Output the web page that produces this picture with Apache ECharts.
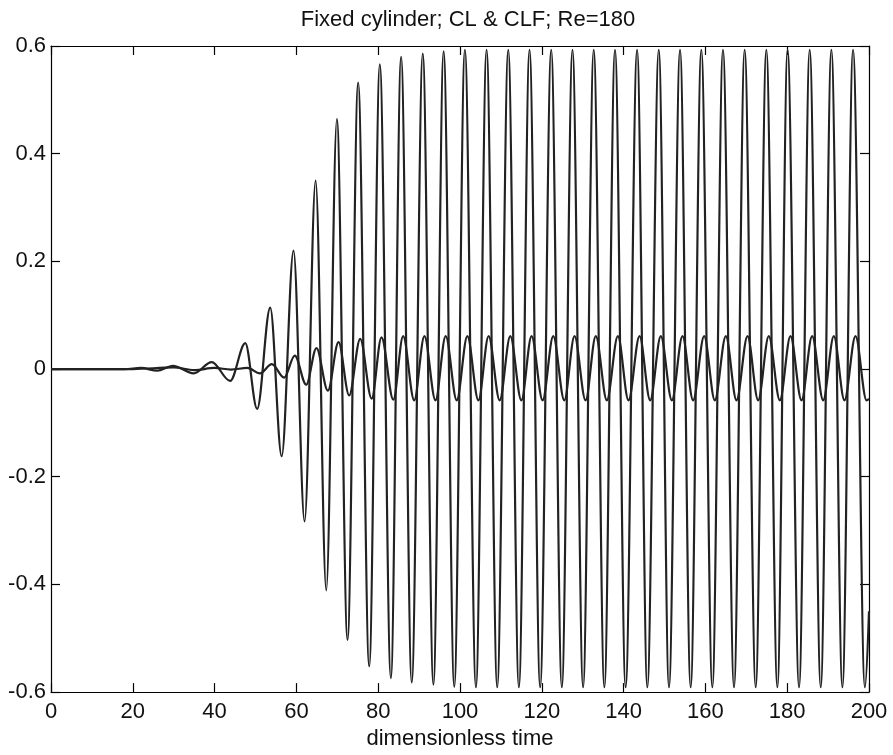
<!DOCTYPE html>
<html>
<head>
<meta charset="utf-8">
<script src="https://cdn.jsdelivr.net/npm/echarts@6/dist/echarts.min.js"></script>
<style>
html,body{margin:0;padding:0;background:#fff;}
#chart{width:893px;height:755px;}
</style>
</head>
<body>
<div id="chart"></div>
<script>
// ---- data (extrema of each signal) ----
const titleText = 'Fixed cylinder; CL & CLF; Re=180';
const xName = 'dimensionless time';
const xTicks = [0, 20, 40, 60, 80, 100, 120, 140, 160, 180, 200];
const yTicks = [-0.6, -0.4, -0.2, 0, 0.2, 0.4, 0.6];

// CL: lift coefficient (large oscillation)
const clT = [0, 18, 22, 26, 29.8, 34.9, 39.3, 43.8, 47.5, 50.4, 53.6, 56.4, 59.3, 62.0, 64.7, 67.3, 69.9, 72.5, 75.1, 77.8, 80.4, 83.1, 85.6, 88.2, 90.9, 93.5, 96.0,
  98.6, 101.2, 103.9, 106.5, 109.1, 111.8, 114.4, 117.0, 119.6, 122.3, 124.9, 127.5, 130.1, 132.7, 135.3, 137.9, 140.5, 143.3, 145.8, 148.6,
  151.1, 153.8, 156.4, 159.0, 161.7, 164.3, 167.0, 169.6, 172.3, 174.9, 177.6, 180.1, 182.9, 185.5, 188.2, 190.8, 193.5, 196.1, 199.0, 200];
const clV = [0, 0, 0.002, -0.003, 0.006, -0.008, 0.013, -0.022, 0.048, -0.074, 0.114, -0.162, 0.22, -0.283, 0.35, -0.411, 0.464, -0.503, 0.532, -0.552, 0.566, -0.574, 0.58, -0.582, 0.586, -0.586, 0.59,
  -0.59, 0.593, -0.591, 0.593, -0.591, 0.593, -0.591, 0.593, -0.591, 0.593, -0.591, 0.593, -0.591, 0.593, -0.591, 0.593, -0.591, 0.593, -0.591, 0.593,
  -0.591, 0.593, -0.591, 0.593, -0.591, 0.593, -0.591, 0.593, -0.591, 0.593, -0.591, 0.593, -0.591, 0.593, -0.591, 0.593, -0.591, 0.593, -0.591, -0.45];

// CLF: filtered lift coefficient (small oscillation)
const clfT = [0, 20, 30, 35, 40, 44, 48, 51.1, 54.0, 57.0, 59.6, 62.4, 64.9, 67.7, 70.3, 72.9, 75.6, 78.4, 80.8, 83.7, 86.1, 88.8, 91.3, 94.0, 96.5,
  99.2, 101.8, 104.5, 107.0, 109.7, 112.3, 115.0, 117.5, 120.2, 122.8, 125.5, 128.0, 130.7, 133.2, 135.9, 138.6, 141.2, 143.9, 146.5, 149.1,
  151.8, 154.4, 157.0, 159.7, 162.3, 165.0, 167.6, 170.3, 172.9, 175.5, 178.2, 180.8, 183.5, 186.1, 188.8, 191.4, 194.0, 196.7, 199.4, 200];
const clfV = [0, 0, 0.003, -0.002, 0.002, -0.001, 0.002, -0.008, 0.009, -0.016, 0.025, -0.029, 0.039, -0.04, 0.05, -0.049, 0.056, -0.055, 0.059, -0.057, 0.061, -0.058, 0.061, -0.058, 0.061,
  -0.058, 0.061, -0.058, 0.061, -0.058, 0.061, -0.058, 0.061, -0.058, 0.061, -0.058, 0.061, -0.058, 0.061, -0.058, 0.061, -0.058, 0.061, -0.058, 0.061,
  -0.058, 0.061, -0.058, 0.061, -0.058, 0.061, -0.058, 0.061, -0.058, 0.061, -0.058, 0.061, -0.058, 0.061, -0.058, 0.061, -0.058, 0.061, -0.058, -0.055];

// ---- build chart ----
const pairs = (t, v) => t.map((x, i) => [x, v[i]]);
const FONT = '"Liberation Sans", Arial, sans-serif';
const lineCol = '#222';
const fmtY = v => (Math.abs(v) < 1e-9 ? '0' : (+v).toFixed(1));

const chart = echarts.init(document.getElementById('chart'), null, {renderer: 'canvas'});
function axisBase() {
  return {
    type: 'value',
    axisLine: {show: true, onZero: false, lineStyle: {color: '#000', width: 1.2}},
    axisTick: {show: true, inside: true, length: 9, lineStyle: {color: '#000', width: 1.2}},
    splitLine: {show: false}
  };
}
chart.setOption({
  backgroundColor: '#fff',
  animation: false,
  title: {
    text: titleText, left: 463, textAlign: 'center', top: 4,
    textStyle: {fontFamily: FONT, fontSize: 22, fontWeight: 'normal', color: '#111'}
  },
  grid: {left: 51, right: 24, top: 46, bottom: 62, containLabel: false},
  xAxis: [
    Object.assign(axisBase(), {
      position: 'bottom', min: xTicks[0], max: xTicks[xTicks.length - 1], interval: xTicks[1] - xTicks[0],
      name: xName, nameLocation: 'middle', nameGap: 34,
      nameTextStyle: {fontFamily: FONT, fontSize: 22, color: '#111'},
      axisLabel: {fontFamily: FONT, fontSize: 22, color: '#111', margin: 9}
    }),
    Object.assign(axisBase(), {
      position: 'top', min: xTicks[0], max: xTicks[xTicks.length - 1], interval: xTicks[1] - xTicks[0],
      axisLabel: {show: false}
    })
  ],
  yAxis: [
    Object.assign(axisBase(), {
      position: 'left', min: yTicks[0], max: yTicks[yTicks.length - 1], interval: 0.2,
      axisLabel: {fontFamily: FONT, fontSize: 22, color: '#111', margin: 5, formatter: fmtY}
    }),
    Object.assign(axisBase(), {
      position: 'right', min: yTicks[0], max: yTicks[yTicks.length - 1], interval: 0.2,
      axisLabel: {show: false}
    })
  ],
  series: [
    {
      name: 'CL', type: 'line', xAxisIndex: 0, yAxisIndex: 0,
      data: pairs(clT, clV), showSymbol: false, smooth: 0.34, smoothMonotone: 'x',
      lineStyle: {color: lineCol, width: 2.2}, z: 3
    },
    {
      name: 'CLF', type: 'line', xAxisIndex: 0, yAxisIndex: 0,
      data: pairs(clfT, clfV), showSymbol: false, smooth: 0.34, smoothMonotone: 'x',
      lineStyle: {color: lineCol, width: 2.2}, z: 4
    }
  ]
});
</script>
</body>
</html>
